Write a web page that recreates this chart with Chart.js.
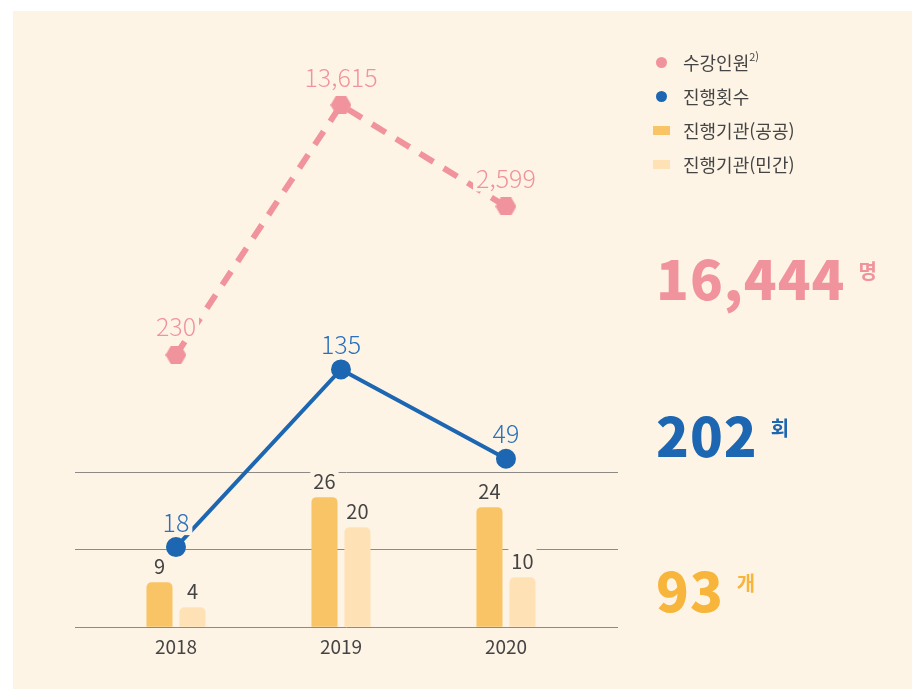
<!DOCTYPE html>
<html lang="ko">
<head>
<meta charset="utf-8">
<title>수강인원 · 진행횟수 · 진행기관</title>
<script src="https://cdn.jsdelivr.net/npm/chart.js@4.4.1/dist/chart.umd.min.js"></script>
<style>
  body { margin: 0; background: #fff; font-family: "Noto Sans CJK KR", "Noto Sans", sans-serif; }
  #wrap { position: relative; width: 912px; height: 689px; overflow: hidden; }
  #bg { position: absolute; left: 13px; top: 11px; right: 0; bottom: 0; background: #fef4e6; }
  canvas { position: absolute; left: 0; top: 0; }
  #legend { position: absolute; left: 650px; top: 45px; }
  .item { display: flex; align-items: center; height: 34px; font-size: 18px; color: #444; }
  .mark { width: 22px; display: flex; justify-content: center; }
  .item span.txt { margin-left: 11px; }
  .item sup { font-size: 11px; position: relative; top: -2px; }
  .total { position: absolute; left: 656px; line-height: 1; white-space: nowrap; }
  .total .num { font-size: 54px; font-weight: 900; letter-spacing: 1px; }
  .total .unit { font-size: 20px; font-weight: 700; vertical-align: top; margin-left: 13px; position: relative; top: 11px; }
</style>
</head>
<body>
<div id="wrap">
  <div id="bg"></div>
  <canvas id="chart" width="912" height="689"></canvas>
  <div id="legend"></div>
  <div class="total" id="t1" style="top:250px"></div>
  <div class="total" id="t2" style="top:407px"></div>
  <div class="total" id="t3" style="top:562px"></div>
</div>
<script>
// ── Data ──────────────────────────────────────────────────────
const years = ["2018", "2019", "2020"];
const students = [230, 13615, 2599];      // 수강인원
const sessions = [18, 135, 49];           // 진행횟수
const publicOrgs = [9, 26, 24];           // 진행기관(공공)
const privateOrgs = [4, 20, 10];          // 진행기관(민간)

// ── Colors ────────────────────────────────────────────────────
const bgColor = "#fef4e6";
const pink = "#f0939c";
const blue = "#1d67b2";
const orange = "#f9c466";
const light = "#fee2b6";
const gridGray = "#8d8a86";
const textGray = "#444";

const points = arr => arr.map((v, i) => ({ x: i, y: v }));
const sum = arr => arr.reduce((a, b) => a + b, 0);

// hexagon marker for 수강인원
function hexagon(w, h, color) {
    const c = document.createElement("canvas");
    c.width = w; c.height = h;
    const g = c.getContext("2d");
    const q = w / 4;
    g.fillStyle = color;
    g.beginPath();
    g.moveTo(0, h / 2);
    g.lineTo(q, 0);
    g.lineTo(w - q, 0);
    g.lineTo(w, h / 2);
    g.lineTo(w - q, h);
    g.lineTo(q, h);
    g.closePath();
    g.fill();
    return c;
}

// ── Value labels (drawn over a patch of background) ───────────
const valueLabels = {
    id: "valueLabels",
    afterDatasetsDraw(chart) {
        const { ctx } = chart;
        chart.data.datasets.forEach((ds, i) => {
            const meta = chart.getDatasetMeta(i);
            if (meta.hidden) return;
            ctx.save();
            ctx.font = ds.labelFont;
            ctx.textAlign = "center";
            ctx.textBaseline = "middle";
            meta.data.forEach((el, j) => {
                const txt = ds.data[j].y.toLocaleString("en-US");
                const x = el.x, y = el.y - ds.labelGap;
                const w = ctx.measureText(txt).width;
                ctx.fillStyle = bgColor;
                ctx.fillRect(x - w / 2 - 3, y - 13, w + 6, 26);
                ctx.fillStyle = ds.labelColor;
                ctx.fillText(txt, x, y);
            });
            ctx.restore();
        });
    }
};

const datasets = [
    {
        type: "line",
        label: "수강인원",
        note: "2)",
        data: points(students),
        yAxisID: "yPink",
        borderColor: pink,
        borderWidth: 6,
        borderDash: [16, 12],
        pointStyle: hexagon(21, 18, pink),
        pointRadius: 10,
        tension: 0,
        order: 1,
        labelFont: "300 25px 'Noto Sans CJK KR'",
        labelColor: pink,
        labelGap: 28,
        marker: "circle"
    },
    {
        type: "line",
        label: "진행횟수",
        data: points(sessions),
        yAxisID: "yBlue",
        borderColor: blue,
        backgroundColor: blue,
        borderWidth: 4,
        pointRadius: 8,
        pointHoverRadius: 8,
        tension: 0,
        order: 0,
        labelFont: "300 25px 'Noto Sans CJK KR'",
        labelColor: "#2a70ba",
        labelGap: 25,
        marker: "circle"
    },
    {
        type: "bar",
        label: "진행기관(공공)",
        data: points(publicOrgs),
        yAxisID: "yBar",
        backgroundColor: orange,
        borderRadius: { topLeft: 5, topRight: 5 },
        borderSkipped: "start",
        categoryPercentage: 0.4,
        barPercentage: 0.79,
        order: 2,
        labelFont: "400 20px 'Noto Sans CJK KR'",
        labelColor: textGray,
        labelGap: 16,
        marker: "rect"
    },
    {
        type: "bar",
        label: "진행기관(민간)",
        data: points(privateOrgs),
        yAxisID: "yBar",
        backgroundColor: light,
        borderRadius: { topLeft: 5, topRight: 5 },
        borderSkipped: "start",
        categoryPercentage: 0.4,
        barPercentage: 0.79,
        order: 3,
        labelFont: "400 20px 'Noto Sans CJK KR'",
        labelColor: textGray,
        labelGap: 16,
        marker: "rect"
    }
];

const chart = new Chart(document.getElementById("chart"), {
    type: "bar",
    data: { datasets },
    plugins: [valueLabels],
    options: {
        responsive: false,
        animation: false,
        devicePixelRatio: 1,
        layout: { padding: { left: 75, right: 294, top: 20, bottom: 23 } },
        plugins: { legend: { display: false }, tooltip: { enabled: false } },
        events: [],
        scales: {
            x: {
                type: "linear",
                offset: false,
                min: -0.612,
                max: 2.679,
                afterBuildTicks: s => { s.ticks = years.map((_, i) => ({ value: i })); },
                ticks: {
                    callback: v => years[v],
                    color: textGray,
                    padding: 8,
                    maxRotation: 0,
                    font: { family: "'Noto Sans CJK KR'", size: 19 }
                },
                grid: { display: false, drawTicks: false },
                border: { display: false }
            },
            yBar: {
                type: "linear",
                position: "left",
                min: 0,
                max: 121.4,
                ticks: { display: false, stepSize: 15.5 },
                grid: {
                    drawTicks: false,
                    lineWidth: 1,
                    color: c => (c.tick && c.tick.value <= 31 ? gridGray : "rgba(0,0,0,0)")
                },
                border: { display: false }
            },
            yBlue: { type: "logarithmic", display: false, min: 7.26, max: 7096 },
            yPink: { type: "logarithmic", display: false, min: 2.7, max: 54550 }
        }
    }
});

// ── Legend ────────────────────────────────────────────────────
const legend = document.getElementById("legend");
datasets.forEach(ds => {
    const color = ds.type === "bar" ? ds.backgroundColor : ds.borderColor;
    const mark = ds.marker === "rect"
        ? `<div style="width:17px;height:9px;background:${color}"></div>`
        : `<div style="width:11px;height:11px;border-radius:50%;background:${color}"></div>`;
    legend.insertAdjacentHTML("beforeend",
        `<div class="item"><div class="mark">${mark}</div><span class="txt">${ds.label}${ds.note ? "<sup>" + ds.note + "</sup>" : ""}</span></div>`);
});

// ── Totals ────────────────────────────────────────────────────
function setTotal(id, value, unit, color) {
    document.getElementById(id).innerHTML =
        `<span class="num" style="color:${color}">${value.toLocaleString("en-US")}</span><span class="unit" style="color:${color}">${unit}</span>`;
}
setTotal("t1", sum(students), "명", pink);
setTotal("t2", sum(sessions), "회", blue);
setTotal("t3", sum(publicOrgs) + sum(privateOrgs), "개", "#f7b53b");
</script>
</body>
</html>
